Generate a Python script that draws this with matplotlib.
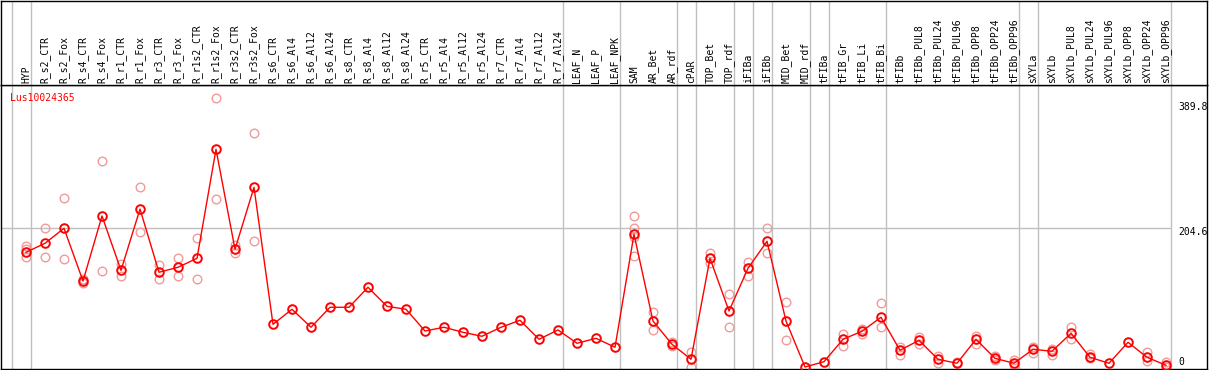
import matplotlib
matplotlib.use("Agg")
import matplotlib.pyplot as plt
import numpy as np

W, H = 1209, 370

gene = "Lus10024365"

samples = [
    "HYP", "R_s2_CTR", "R_s2_Fox", "R_s4_CTR", "R_s4_Fox", "R_r1_CTR", "R_r1_Fox",
    "R_r3_CTR", "R_r3_Fox", "R_r1s2_CTR", "R_r1s2_Fox", "R_r3s2_CTR", "R_r3s2_Fox",
    "R_s6_CTR", "R_s6_Al4", "R_s6_Al12", "R_s6_Al24", "R_s8_CTR", "R_s8_Al4",
    "R_s8_Al12", "R_s8_Al24", "R_r5_CTR", "R_r5_Al4", "R_r5_Al12", "R_r5_Al24",
    "R_r7_CTR", "R_r7_Al4", "R_r7_Al12", "R_r7_Al24", "LEAF_N", "LEAF_P", "LEAF_NPK",
    "SAM", "AR_Bet", "AR_rdf", "cPAR", "TOP_Bet", "TOP_rdf", "iFIBa", "iFIBb",
    "MID_Bet", "MID_rdf", "tFIBa", "tFIB_Gr", "tFIB_Li", "tFIB_Bi", "tFIBb",
    "tFIBb_PUL8", "tFIBb_PUL24", "tFIBb_PUL96", "tFIBb_OPP8", "tFIBb_OPP24",
    "tFIBb_OPP96", "sXYLa", "sXYLb", "sXYLb_PUL8", "sXYLb_PUL24", "sXYLb_PUL96",
    "sXYLb_OPP8", "sXYLb_OPP24", "sXYLb_OPP96",
]

means = [
    169.2, 182.4, 204.6, 126.8, 222.7, 142.6, 233.0, 139.7, 147.1, 160.3, 321.1,
    173.6, 265.0, 63.0, 85.1, 58.6, 88.1, 88.1, 117.6, 89.5, 85.1, 53.1, 58.6,
    51.2, 45.3, 58.6, 68.9, 40.9, 54.6, 35.0, 42.3, 29.1, 195.7, 67.8, 33.5,
    11.4, 160.3, 82.6, 145.6, 185.4, 67.8, 0.0, 7.8, 40.9, 52.7, 73.3, 24.6,
    39.4, 11.4, 5.5, 40.9, 12.8, 5.5, 26.1, 23.2, 49.7, 14.3, 5.5, 36.4, 14.3, 2.5,
]

replicates = [
    [178.9, 174.0, 161.8], [204.6, 161.8], [248.8, 158.8], [129.4, 123.5],
    [303.4, 141.2], [151.5, 134.7], [265.0, 198.7], [150.4, 130.2],
    [160.3, 133.8], [189.8, 130.2], [396.3, 247.3], [180.4, 167.7],
    [344.7, 185.4], [], [], [], [], [], [], [], [], [], [], [], [], [], [], [], [],
    [], [], [], [222.7, 204.6, 191.3, 163.3], [80.7, 54.1], [36.9, 30.5],
    [21.7, 0.4], [168.1, 152.9], [107.2, 58.6], [154.4, 134.7], [204.6, 167.7],
    [95.4, 39.4], [], [], [48.2, 30.5], [55.6, 48.2], [94.0, 58.6], [29.9, 17.3],
    [43.8, 33.5], [15.8, 5.5], [6.9], [45.3, 33.5], [15.8, 9.9], [9.9, 2.5],
    [29.9, 20.2], [26.1, 17.3], [58.6, 40.9], [18.7, 12.8], [], [], [21.7, 8.4],
    [6.9, 0.0],
]

# index of the last sample in each group (a grey separator follows it)
group_ends = [-1, 0, 28, 31, 34, 35, 37, 38, 39, 41, 42, 45, 52, 53, 60]

y_ticks = [389.8, 204.6, 0]
y_grid = 204.6

RED = "#ff0000"
PINK = "#f09a9a"
GRID = "#c0c0c0"

# pixel geometry: sample i sits at 26 + 19*i px, zero at 367 px, 0.678 px per unit
px0, dx = 26.0, 19.0
zero_px, scale = 367.0, 0.678
left_px, right_px, head_px, bot_px = 1.0, 1207.0, 85.0, 369.0
xlim = ((left_px - px0) / dx, (right_px - px0) / dx)
ylim = ((zero_px - bot_px) / scale, (zero_px - head_px) / scale)
plot_right = (1170.7 - px0) / dx

plt.rcParams["font.family"] = ["DejaVu Sans Mono"]

fig = plt.figure(figsize=(W / 100, H / 100), dpi=100)
fig.patch.set_facecolor("white")

ax = fig.add_axes([left_px / W, (H - bot_px) / H,
                   (right_px - left_px) / W, (bot_px - head_px) / H])
hx = fig.add_axes([left_px / W, (H - head_px) / H,
                   (right_px - left_px) / W, (head_px - 0.5) / H])

for a in (ax, hx):
    a.set_xlim(*xlim)
    a.set_xticks([])
    a.set_yticks([])
    for s in a.spines.values():
        s.set_color("black")
        s.set_linewidth(1.0)
    for g in group_ends:
        a.axvline(g + 0.237, color=GRID, lw=1, zorder=1)

ax.set_ylim(*ylim)
hx.set_ylim(head_px, 0)

x = np.arange(len(samples))

# header labels
for i, name in enumerate(samples):
    hx.text(i, 83, name, rotation=90, ha="center", va="bottom",
            fontsize=7, color="black")

# grid line and value labels
ax.hlines(y_grid, xlim[0], plot_right, color=GRID, lw=1, zorder=1)
for v in y_ticks:
    yv = max(v - 4 / scale, 7.8)
    ax.text((1178 - px0) / dx, yv, f"{v:g}", ha="left", va="center",
            fontsize=7, color="black", clip_on=True)

# replicates
rx = [i for i, r in enumerate(replicates) for _ in r]
ry = [v for r in replicates for v in r]
ax.plot(rx, ry, linestyle="none", marker="o", markersize=6.2,
        markerfacecolor="none", markeredgecolor=PINK, markeredgewidth=1.0,
        zorder=2, clip_on=False)

# mean line
ax.plot(x, means, color=RED, lw=1.0, marker="o", markersize=6.2,
        markerfacecolor="none", markeredgecolor=RED, markeredgewidth=1.4,
        zorder=3, clip_on=False)

ax.text((10 - px0) / dx, (zero_px - 97.5) / scale, gene, ha="left", va="center",
        fontsize=7, color=RED)

fig.savefig("out.png", dpi=100)
